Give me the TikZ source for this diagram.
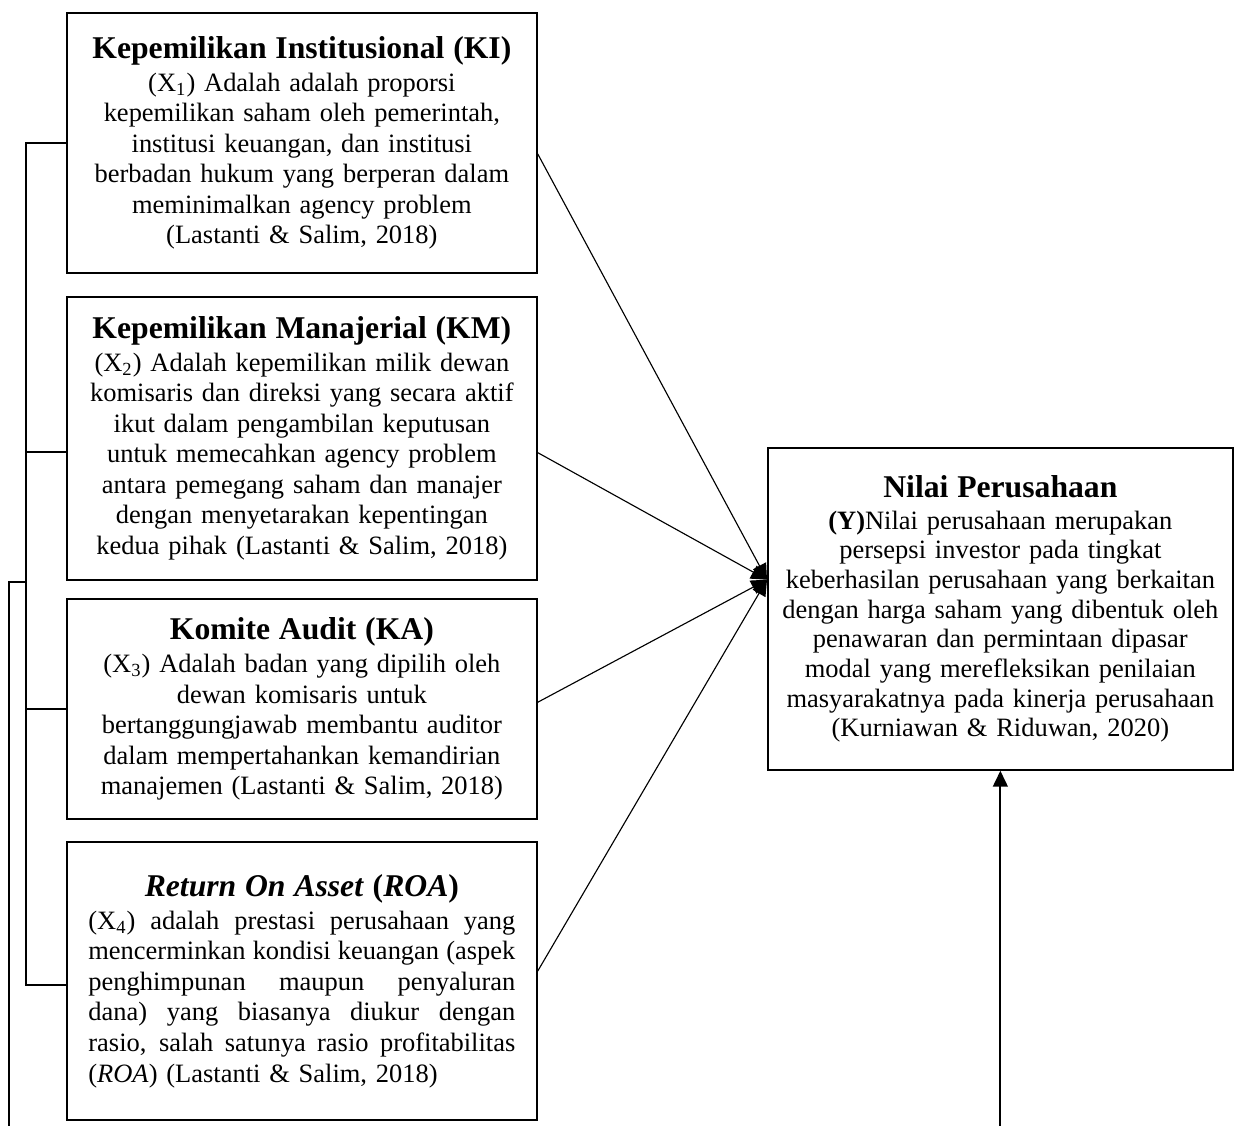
\documentclass[tikz,border=0pt]{standalone}
\usepackage{fontspec}
\setmainfont{Liberation Serif}
\usetikzlibrary{positioning,calc,arrows.meta}

\tikzset{
  varbox/.style={draw, line width=0.8pt, text width=203pt, inner xsep=2.35pt,
    align=center, font=\fontsize{11.7}{13.5}\selectfont},
  link/.style={line width=0.5pt, -{Triangle[length=7pt,width=6.5pt]}},
  bracket/.style={line width=0.9pt}
}
\newcommand{\judul}[1]{{\fontsize{14}{16}\selectfont\bfseries #1}\\[1pt]}
\newcommand{\rata}[1]{\makebox[188.7pt][s]{\spaceskip=0.25em plus 10em\relax #1}}

\begin{document}
\begin{tikzpicture}[x=0.442pt, y=-0.442pt]
    \useasboundingbox (0,0) rectangle (1245,1126);

    % variabel independen
    \node[varbox, minimum height=114.9pt, anchor=north west] (ki) at (66,12) {\judul{Kepemilikan Institusional (KI)}(X\textsubscript{1}) Adalah adalah proporsi\\ kepemilikan saham oleh pemerintah,\\ institusi keuangan, dan institusi\\ berbadan hukum yang berperan dalam\\ meminimalkan agency problem\\ (Lastanti \& Salim, 2018)};
    \node[varbox, minimum height=125.1pt, below=9.7pt of ki] (km) {\judul{Kepemilikan Manajerial (KM)}(X\textsubscript{2}) Adalah kepemilikan milik dewan\\ komisaris dan direksi yang secara aktif\\ ikut dalam pengambilan keputusan\\ untuk memecahkan agency problem\\ antara pemegang saham dan manajer\\ dengan menyetarakan kepentingan\\ kedua pihak (Lastanti \& Salim, 2018)};
    \node[varbox, minimum height=97.2pt, below=7.9pt of km] (ka) {\judul{Komite Audit (KA)}(X\textsubscript{3}) Adalah badan yang dipilih oleh\\ dewan komisaris untuk\\ bertanggungjawab membantu auditor\\ dalam mempertahankan kemandirian\\ manajemen (Lastanti \& Salim, 2018)};
    \node[varbox, minimum height=122.9pt, below=9.3pt of ka] (roa) {\judul{\textit{Return On Asset} (\textit{ROA})}\rata{(X\textsubscript{4}) adalah prestasi perusahaan yang}\\ \rata{mencerminkan kondisi keuangan (aspek}\\ \rata{penghimpunan maupun penyaluran}\\ \rata{dana) yang biasanya diukur dengan}\\ \rata{rasio, salah satunya rasio profitabilitas}\\ \makebox[188.7pt][l]{(\textit{ROA}) (Lastanti \& Salim, 2018)}};

    % variabel dependen
    \node[varbox, text width=200pt, inner xsep=2.75pt, minimum height=142.3pt, anchor=north west,
      font=\fontsize{11.7}{13.1}\selectfont] (nilai) at (767,447) {\judul{Nilai Perusahaan}\textbf{(Y)}Nilai perusahaan merupakan\\ persepsi investor pada tingkat\\ keberhasilan perusahaan yang berkaitan\\ dengan harga saham yang dibentuk oleh\\ penawaran dan permintaan dipasar\\ modal yang merefleksikan penilaian\\ masyarakatnya pada kinerja perusahaan\\ (Kurniawan \& Riduwan, 2020)};

    % garis kiri
    \coordinate (spine) at ($(ki.west)+(-40,0)$);
    \coordinate (junc) at (spine |- 0,582);
    \coordinate (bawah) at (9,1126);
    \draw[bracket] (ki.west) -- (spine) |- ($(roa.west)+(0,4)$);
    \draw[bracket] ($(km.west)+(0,13.5)$) -- ($(km.west)+(-40,13.5)$);
    \draw[bracket] (ka.west) -- (ka.west -| spine);
    \draw[bracket] (bawah) |- (junc);

    % panah ke nilai perusahaan
    \coordinate (tip) at ($(nilai.north west)!0.41!(nilai.south west)$);
    \draw[link] ($(ki.east)+(0,11)$) -- (tip);
    \draw[link] ($(km.east)+(0,14.5)$) -- (tip);
    \draw[link] ($(ka.east)+(0,-7)$) -- (tip);
    \draw[link] ($(roa.east)+(0,-10)$) -- (tip);

    \coordinate (dasar) at (nilai.south |- 0,1126);
    \draw[link, line width=0.9pt] (dasar) -- (nilai.south);
\end{tikzpicture}
\end{document}
